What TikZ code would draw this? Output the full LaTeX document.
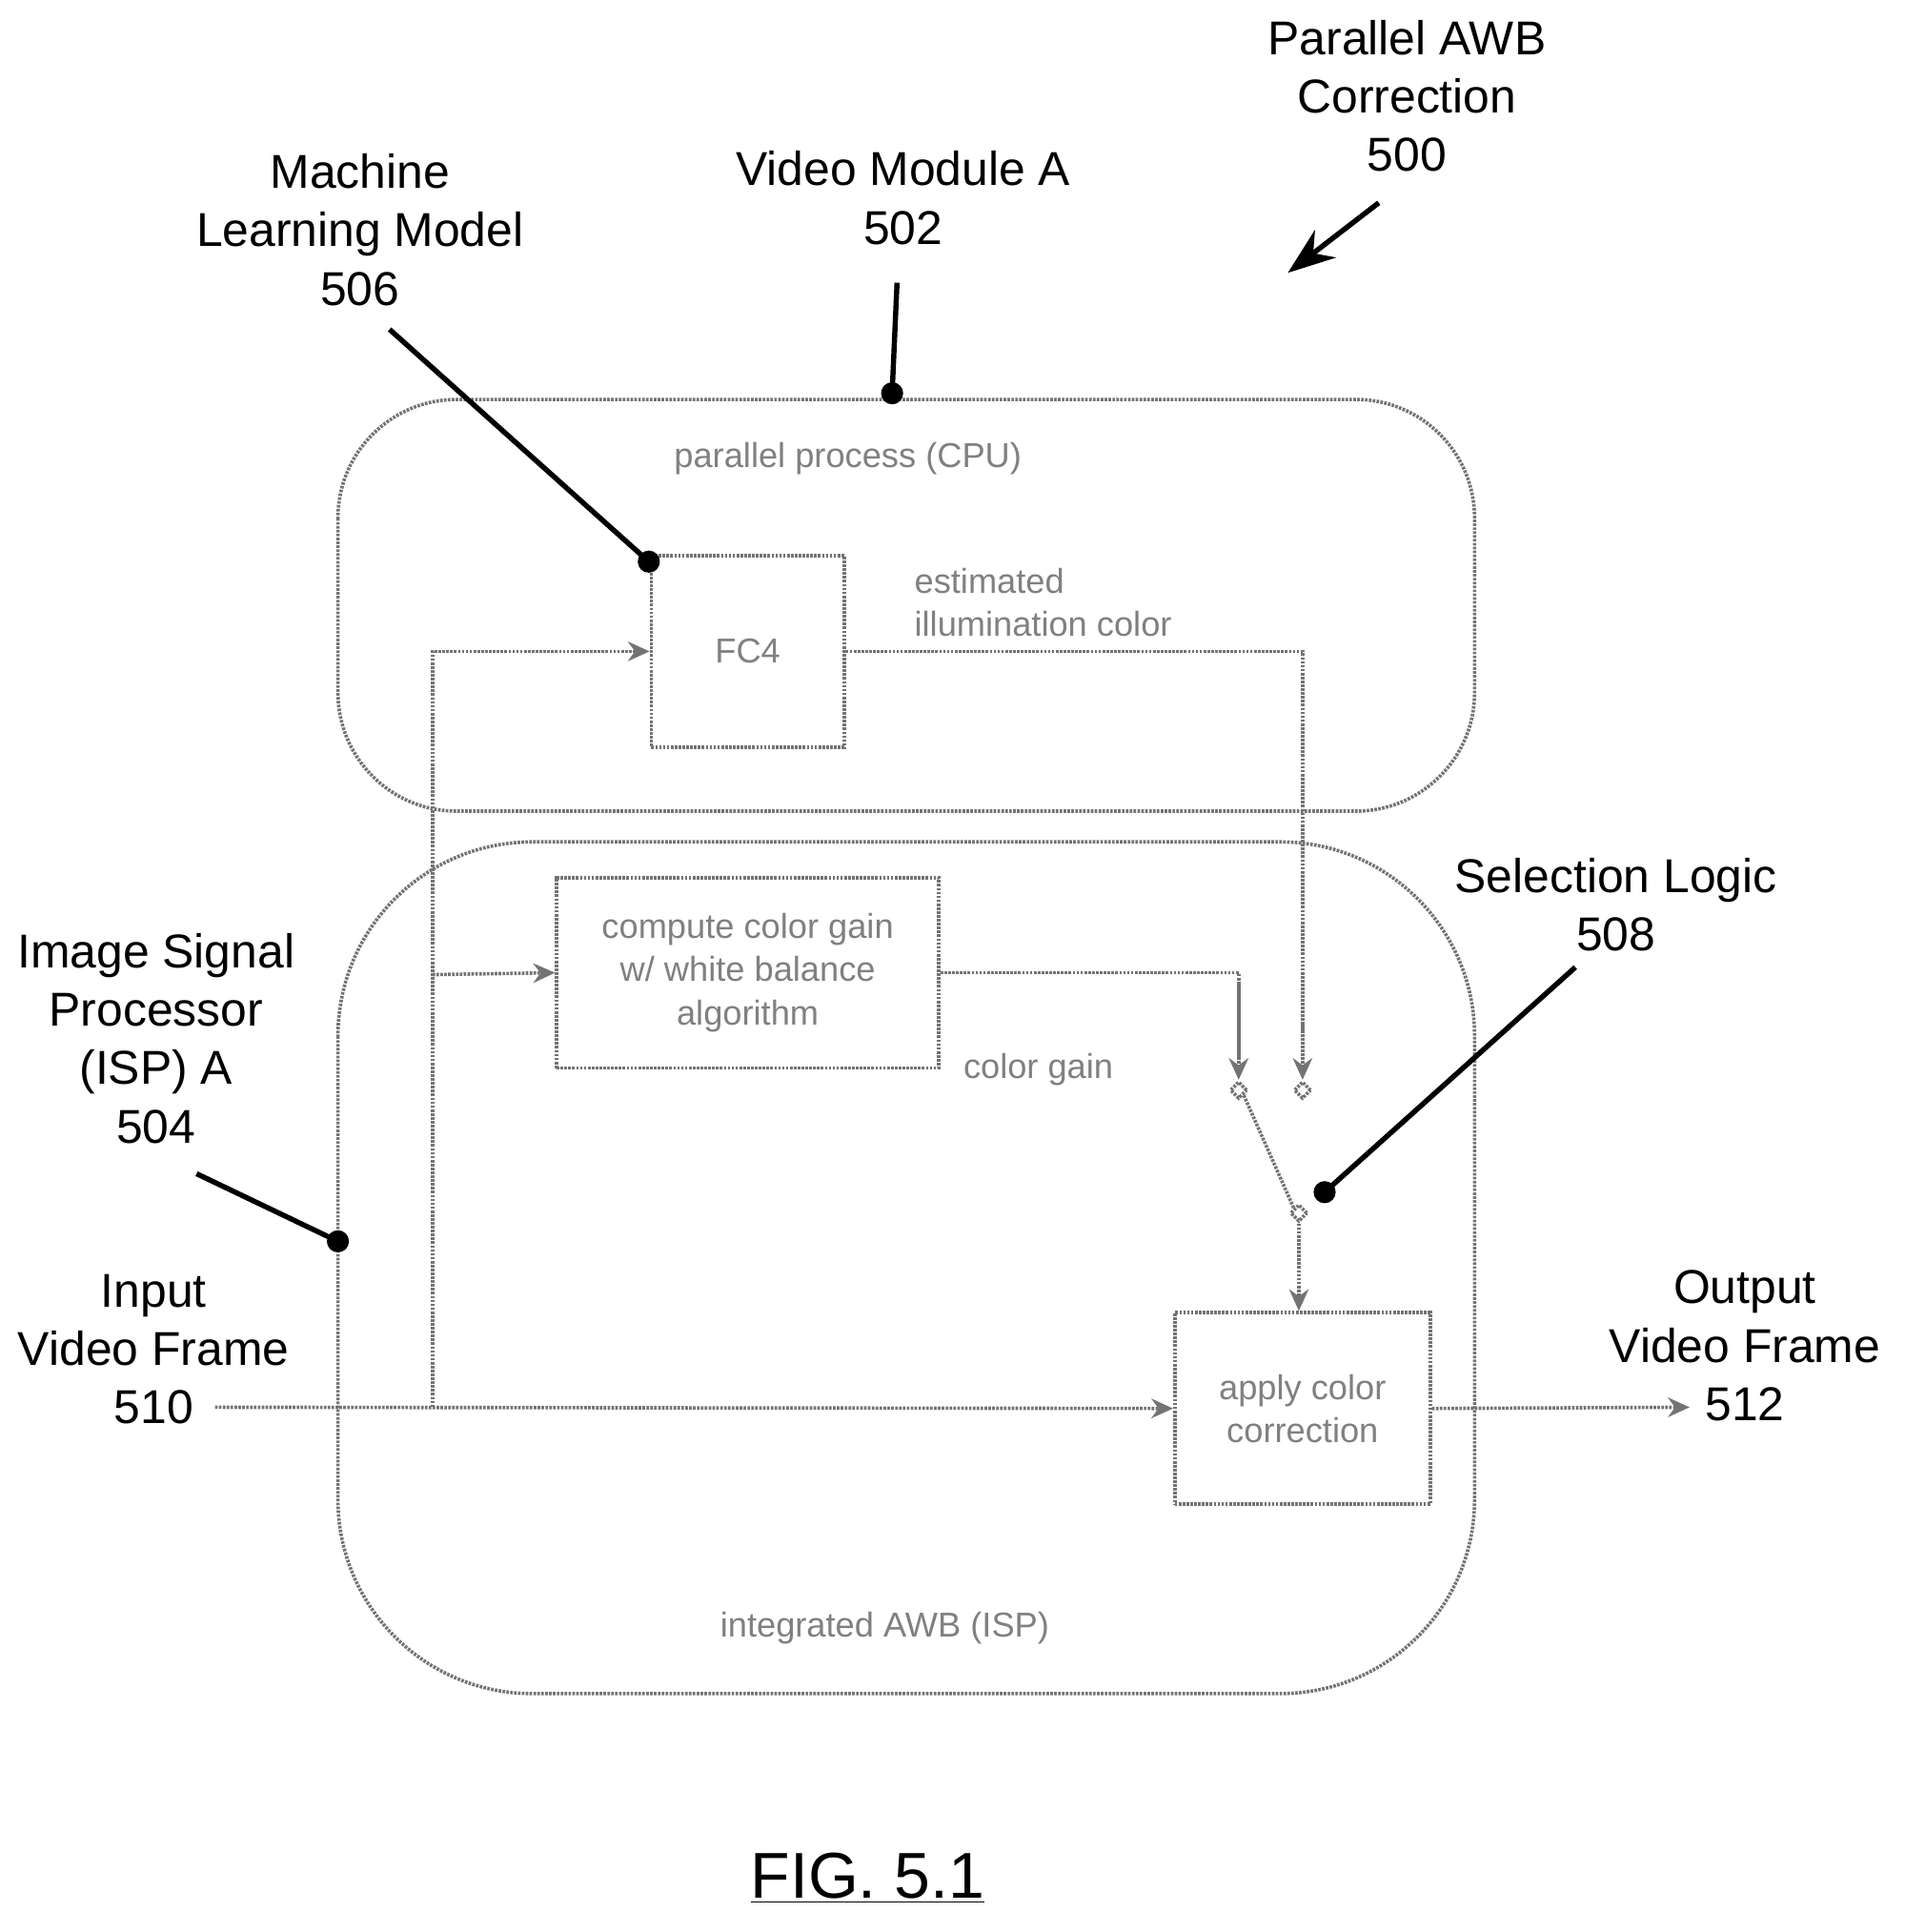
\documentclass[tikz,border=0pt]{standalone}
\usepackage{fontspec}
\setmainfont{Liberation Sans}
\usetikzlibrary{arrows.meta,positioning,shapes.geometric}
\tikzstyle{label} = [align=center, font=\fontsize{22}{27}\selectfont]
\tikzstyle{grey} = [draw=black!55, line width=1.6pt, dash pattern=on 1.2pt off 0.6pt]
\tikzstyle{block} = [grey, rectangle, inner sep=0pt, text=black!50, align=center, font=\fontsize{16}{20}\selectfont]
\tikzstyle{flow} = [grey, -{Stealth[length=10pt,width=9pt]}]
\tikzstyle{note} = [text=black!50, font=\fontsize{16}{20}\selectfont]
\tikzstyle{lead} = [line width=2.4pt]
\tikzstyle{contact} = [grey, fill=white, diamond, minimum size=8pt, inner sep=0pt]
\begin{document}
\begin{tikzpicture}[x=0.02cm, y=-0.02cm]
		\useasboundingbox (0,0) rectangle (1550,1572);
		% Frames
		\draw [grey, rounded corners=55] (275,325) rectangle (1200,660);
		\draw [grey, rounded corners=90] (275,685) rectangle (1200,1378);
		\node [note] at (690,373) {parallel process (CPU)};
		\node [note] at (720,1325) {integrated AWB (ISP)};
		% Blocks
		\node (fc4) [block, minimum width=3.14cm, minimum height=3.12cm] at (608.5,530) {FC4};
		\node (gain) [block, minimum width=6.22cm, minimum height=3.1cm] at (608.5,791.5) {compute color gain\\w/ white balance\\algorithm};
		\node (apply) [block, minimum width=4.16cm, minimum height=3.12cm] at (1060,1146) {apply color\\correction};
		% Switch contacts
		\node (sa) [contact] at (1008,887) {};
		\node (sb) [contact] at (1060,887) {};
		\node (sc) [contact] at (1057,987) {};
		\coordinate (in) at (175,1145);
		\coordinate (split) at (352,1145);
		\coordinate (out) at (1375,1145);
		% Connectors
		\draw [flow] (in) -- (apply.west);
		\draw [flow] (split) |- (fc4.west);
		\draw [flow] (352,793) -- (gain.west);
		\draw [grey] (fc4.east) -| (1060,860);
		\draw [flow] (1060,800) -- (sb.north);
		\draw [grey] (gain.east) -| (1008,860);
		\draw [flow] (1008,800) -- (sa.north);
		\draw [grey] (sa.south east) -- (sc.north west);
		\draw [flow] (sc.south) -- (sc.south |- apply.north);
		\draw [flow] (apply.east) -- (out);
		\node [note, anchor=west, align=left] at (738,490) {estimated\\illumination color};
		\node [note] at (845,870) {color gain};
		% Callouts
		\node (ml) [label] at (293,187) {Machine\\Learning Model\\506};
		\node (vm) [label] at (735,161) {Video Module A\\502};
		\node (awb) [label] at (1145,78) {Parallel AWB\\Correction\\500};
		\node (sel) [label] at (1315,736) {Selection Logic\\508};
		\node (isp) [label] at (127,845) {Image Signal\\Processor\\(ISP) A\\504};
		\node (ivf) [label] at (125,1098) {Input\\Video Frame\\510};
		\node (ovf) [label] at (1420,1095) {Output\\Video Frame\\512};
		\draw [lead] (317,268) -- (528,457); \fill (528,457) circle (9);
		\draw [lead] (730,230) -- (726,320); \fill (726,320) circle (9);
		\draw [lead] (1282,787) -- (1078,970); \fill (1078,970) circle (9);
		\draw [lead] (160,955) -- (275,1010); \fill (275,1010) circle (9);
		\draw [lead, -{Stealth[length=22pt,width=16pt]}] (1122,165) -- (1048,222);
		\node (fig) [font=\fontsize{30}{36}\selectfont] at (706,1528) {\underline{FIG. 5.1}};
	\end{tikzpicture}
\end{document}
